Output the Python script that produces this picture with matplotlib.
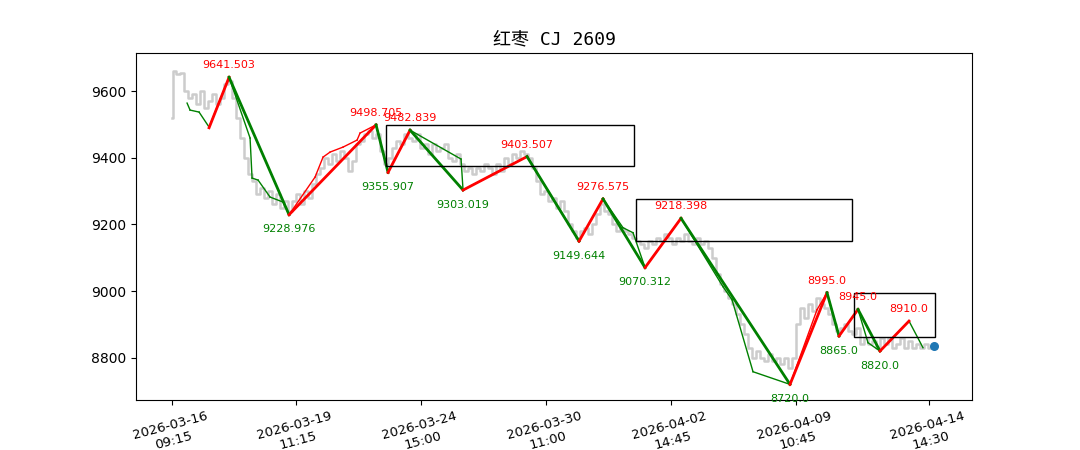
import matplotlib
matplotlib.use("Agg")
import matplotlib.pyplot as plt
from matplotlib.patches import Rectangle

plt.rcParams['font.family'] = ['Noto Sans CJK SC', 'DejaVu Sans']

tick_pos = [0, 124, 249, 374, 499, 624, 757]
tick_labels = ["2026-03-16\n09:15", "2026-03-19\n11:15", "2026-03-24\n15:00", "2026-03-30\n11:00",
               "2026-04-02\n14:45", "2026-04-09\n10:45", "2026-04-14\n14:30"]

gray_px = [172,174,178,182,186,190,194,198,202,206,210,214,218,222,226,230,234,238,242,246,250,254,258,262,266,270,274,278,282,286,290,294,298,302,306,310,314,318,322,326,330,334,338,342,346,350,354,358,362,366,370,374,378,382,386,390,394,398,402,406,410,414,418,422,426,430,434,438,442,446,450,454,458,462,466,470,474,478,482,486,490,494,498,502,506,510,514,518,522,526,530,534,538,542,546,550,554,558,562,566,570,574,578,582,586,590,594,598,602,606,610,614,618,622,626,630,634,638,642,646,650,654,658,662,666,670,674,678,682,686,690,694,698,702,706,710,714,718,722,726,730,734,738,742,746,750,754,758,762,766,770,774,778,782,786,790,794,798,802,806,810,814,818,822,826,830,834,838,842,846,850,854,858,862,866,870,874,878,882,886,890,894,898,902,906,910,914,918,922,926,930,934,936]
gray_y = [9520,9660,9650,9655,9600,9580,9590,9560,9600,9550,9570,9590,9560,9580,9620,9630,9580,9520,9460,9400,9350,9330,9290,9310,9280,9300,9260,9290,9250,9270,9240,9270,9290,9260,9300,9280,9320,9350,9370,9400,9380,9410,9390,9420,9400,9360,9390,9440,9450,9470,9480,9460,9470,9420,9380,9400,9430,9450,9440,9470,9460,9450,9470,9430,9440,9410,9440,9420,9430,9440,9400,9390,9410,9380,9360,9370,9350,9370,9360,9380,9370,9350,9380,9360,9400,9380,9410,9400,9420,9410,9400,9370,9330,9290,9300,9270,9280,9250,9270,9240,9200,9180,9160,9180,9190,9170,9200,9230,9260,9240,9230,9200,9180,9190,9180,9170,9160,9150,9140,9130,9150,9140,9160,9150,9170,9160,9140,9160,9150,9170,9150,9140,9160,9140,9150,9130,9100,9050,9020,9000,8980,8960,8930,8900,8870,8830,8800,8820,8800,8790,8810,8790,8800,8780,8800,8770,8800,8900,8950,8920,8960,8940,8980,8960,8950,8930,8900,8880,8890,8900,8880,8870,8890,8840,8860,8840,8850,8830,8860,8840,8860,8830,8840,8860,8830,8850,8830,8840,8830,8840,8830,8840,8830]

main_px = [209,229,289,376,388,410,463,527,579,603,645,681,790,827,839,858,880,909]
main_y = [9490,9641.503,9228.976,9498.705,9355.907,9482.839,9303.019,9403.507,9149.644,9276.575,9070.312,9218.398,8720.0,8995.0,8865.0,8945.0,8820.0,8910.0]

sub_px = [187,190,199,209,229,250,252,258,270,283,289,315,323,330,343,357,360,376,388,410,461,463,527,579,603,623,633,645,681,723,732,753,790,817,827,839,858,868,880,909,923]
sub_y = [9564,9543,9537,9492,9641.5,9459,9339,9333,9282,9267,9229,9342,9402,9417,9432,9453,9474,9498.7,9355.9,9482.8,9396,9303,9403.5,9149.6,9276.6,9190,9175,9070.3,9218.4,9013,8974,8758,8720,8944,8995,8865,8945,8845,8820,8910,8830]

pivot_px = [(386, 634), (636, 852), (854, 935)]
pivot_y = [(9375, 9498), (9150, 9276), (8863, 8995)]

end_px, end_y = 934, 8835

X = lambda p: p - 172

fig = plt.figure(figsize=(10.8, 4.5), dpi=100)
ax = fig.add_axes([0.126, 0.111, 0.774, 0.771])
ax.plot([X(p) for p in gray_px], gray_y, color='#cccccc', lw=1.8, drawstyle='steps-mid', zorder=1)

def segs(px, ys, lw):
    for i in range(len(px) - 1):
        c = 'red' if ys[i + 1] > ys[i] else 'green'
        ax.plot([X(px[i]), X(px[i + 1])], [ys[i], ys[i + 1]], color=c, lw=lw, zorder=3)

segs(sub_px, sub_y, 1.0)
segs(main_px, main_y, 2.0)

for i in range(1, len(main_px)):
    v = main_y[i]
    up = v > main_y[i - 1]
    ax.annotate(str(v), (X(main_px[i]), v), xytext=(0, 5 if up else -7), textcoords='offset points',
                ha='center', va='bottom' if up else 'top', fontsize=8,
                color='red' if up else 'green', family='DejaVu Sans', zorder=5)

for (x0, x1), (y0, y1) in zip(pivot_px, pivot_y):
    ax.add_patch(Rectangle((X(x0), y0), x1 - x0, y1 - y0, fill=False, ec='black', lw=1, zorder=4))

ax.scatter([X(end_px)], [end_y], s=30, color='#1f77b4', zorder=6)

ax.set_ylim(8673, 9714)
ax.set_xlim(-36, 800)
ax.set_yticks([8800, 9000, 9200, 9400, 9600])
ax.set_xticks(tick_pos)
ax.set_xticklabels(tick_labels, rotation=15, family='DejaVu Sans', fontsize=9.5)
for t in ax.get_yticklabels():
    t.set_family('DejaVu Sans')
ax.set_title("红枣 CJ 2609", fontsize=13, family=['DejaVu Sans Mono', 'Noto Sans CJK SC'])
fig.savefig("out.png", dpi=100)
